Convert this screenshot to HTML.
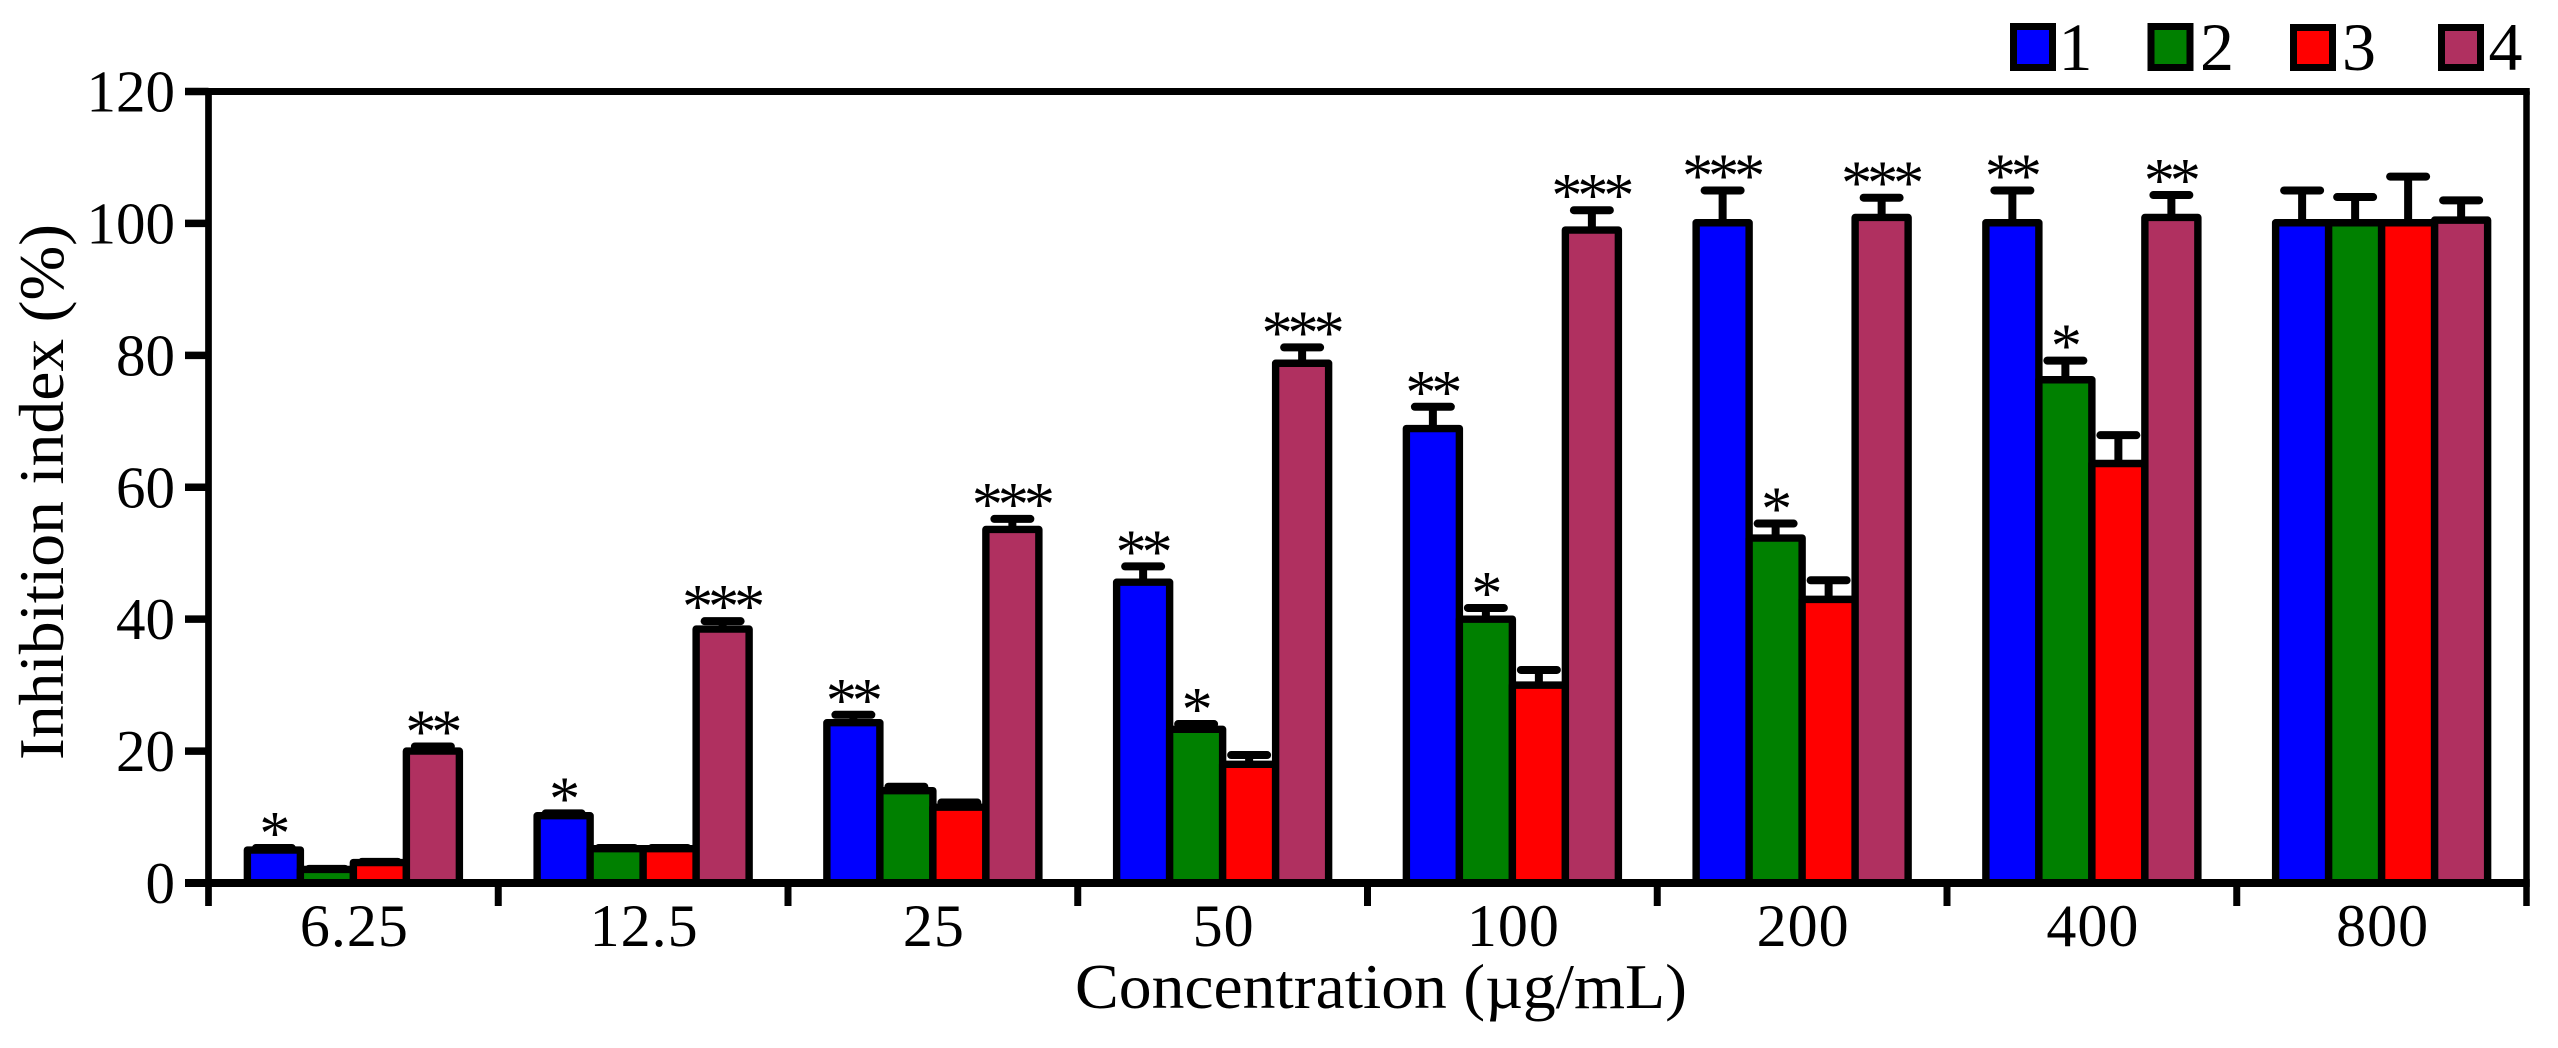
<!DOCTYPE html>
<html lang="en">
<head>
<meta charset="utf-8">
<title>Inhibition index by concentration</title>
<style>
html,body{margin:0;padding:0;background:#fff;}
svg{display:block;}
text{font-family:"Liberation Serif",serif;fill:#000;}
</style>
</head>
<body>
<svg id="chart" width="2558" height="1048" viewBox="0 0 2558 1048" xmlns="http://www.w3.org/2000/svg">
  <g id="plot"></g>
  <text x="1075" y="1008" font-size="64" textLength="612" lengthAdjust="spacingAndGlyphs">Concentration (µg/mL)</text>
  <text transform="translate(63,760) rotate(-90)" font-size="64" textLength="536" lengthAdjust="spacingAndGlyphs">Inhibition index (%)</text>
  <g>
    <g>
      <rect x="2013.5" y="26.5" width="39" height="41" fill="#0000ff" stroke="#000" stroke-width="7"/>
      <text x="2058.5" y="70" font-size="68">1</text>
    </g>
    <g>
      <rect x="2151" y="26.5" width="39" height="41" fill="#008000" stroke="#000" stroke-width="7"/>
      <text x="2200" y="70" font-size="68">2</text>
    </g>
    <g>
      <rect x="2293.5" y="27.5" width="39" height="40" fill="#ff0000" stroke="#000" stroke-width="7"/>
      <text x="2342" y="70" font-size="68">3</text>
    </g>
    <g>
      <rect x="2441.5" y="27.5" width="39" height="40" fill="#b03060" stroke="#000" stroke-width="7"/>
      <text x="2488.5" y="70" font-size="68">4</text>
    </g>
  </g>
</svg>
<script>
const categories = ["6.25", "12.5", "25", "50", "100", "200", "400", "800"];
const yTickLabels = ["0", "20", "40", "60", "80", "100", "120"];
const yTickValues = [0, 20, 40, 60, 80, 100, 120];
const yMax = 120;

const seriesNames = ["1", "2", "3", "4"];
const seriesColors = ["#0000ff", "#008000", "#ff0000", "#b03060"];

const series1 = [5, 10.2, 24.3, 45.6, 68.9, 100.1, 100.1, 100.1];
const series2 = [2.05, 5.2, 14, 23.3, 40, 52.3, 76.3, 100.1];
const series3 = [3.1, 5.2, 11.5, 18, 30, 43, 63.6, 100.1];
const series4 = [20, 38.5, 53.6, 78.8, 99, 100.9, 100.9, 100.5];

const error1 = [0.3, 0.35, 1.2, 2.4, 3.3, 4.9, 4.9, 4.9];
const error2 = [0.1, 0.1, 0.6, 0.8, 1.7, 2.2, 2.9, 3.9];
const error3 = [0.1, 0.1, 0.7, 1.4, 2.3, 2.9, 4.3, 7];
const error4 = [0.7, 1.2, 1.6, 2.4, 3, 3, 3.4, 3];

const stars1 = ["*", "*", "**", "**", "**", "***", "**", ""];
const stars2 = ["", "", "", "*", "*", "*", "*", ""];
const stars3 = ["", "", "", "", "", "", "", ""];
const stars4 = ["**", "***", "***", "***", "***", "***", "**", ""];

const allValues = [series1, series2, series3, series4];
const allErrors = [error1, error2, error3, error4];
const allStars = [stars1, stars2, stars3, stars4];

function yScale(v) {
  const top = 91.5, bottom = 883;
  return bottom - (v / yMax) * (bottom - top);
}
function xEdge(i) {
  const left = 208.5, right = 2526.5;
  return left + i * (right - left) / categories.length;
}
function xBar(i, s) {
  const pitch = 53;
  return (xEdge(i) + xEdge(i + 1)) / 2 + (s - 1.5) * pitch;
}

const NS = "http://www.w3.org/2000/svg";
const plot = document.getElementById("plot");

function make(tag, attrs, parent) {
  const el = document.createElementNS(NS, tag);
  for (const k in attrs) el.setAttribute(k, attrs[k]);
  parent.appendChild(el);
  return el;
}

// Bars with error bars
seriesNames.forEach(function (name, s) {
  const group = make("g", {}, plot);
  
  
  categories.forEach(function (cat, i) {
    const v = allValues[s][i];
    const e = allErrors[s][i];
    const cx = xBar(i, s);
    const yTop = yScale(v);
    const yCap = yScale(v + e);

    const stem = make("line", {x1: cx, x2: cx, y1: yTop, y2: yCap, stroke: "#000", "stroke-width": 8}, group);
    
    

    const cap = make("line", {x1: cx - 18, x2: cx + 18, y1: yCap, y2: yCap, stroke: "#000", "stroke-width": 8, "stroke-linecap": "round"}, group);
    
    

    const bar = make("rect", {x: cx - 26.5, y: yTop, width: 53, height: yScale(0) - yTop, fill: seriesColors[s], stroke: "#000", "stroke-width": 7.4, "stroke-linejoin": "round"}, group);
    
    

    const st = allStars[s][i];
    if (st) {
      const star = make("text", {x: cx - 1.5, y: yCap + 6, "font-size": 62, "letter-spacing": -5, "text-anchor": "middle"}, group);
      
      
      star.textContent = st;
    }
  });
});

// Axes frame
const axisBox = make("g", {}, plot);



const topLine = make("line", {x1: xEdge(0) - 3.5, x2: xEdge(categories.length) + 3.25, y1: yScale(yMax), y2: yScale(yMax), stroke: "#000", "stroke-width": 7}, axisBox);



const rightLine = make("line", {x1: xEdge(categories.length), x2: xEdge(categories.length), y1: yScale(yMax), y2: 906, stroke: "#000", "stroke-width": 6.5}, axisBox);



const leftLine = make("line", {x1: xEdge(0), x2: xEdge(0), y1: yScale(yMax), y2: 906, stroke: "#000", "stroke-width": 6.7}, axisBox);



const bottomLine = make("line", {x1: 185, x2: xEdge(categories.length) + 3.25, y1: yScale(0), y2: yScale(0), stroke: "#000", "stroke-width": 8}, axisBox);



// Y ticks
yTickValues.forEach(function (v, i) {
  const tick = make("line", {x1: 185, x2: xEdge(0), y1: yScale(v), y2: yScale(v), stroke: "#000", "stroke-width": 7.5}, axisBox);
  
  

  const label = make("text", {x: 175, y: yScale(v) + 20, "font-size": 59, "text-anchor": "end"}, axisBox);
  
  
  label.textContent = yTickLabels[i];
});

// X ticks
for (let i = 1; i < categories.length; i++) {
  const tick = make("line", {x1: xEdge(i), x2: xEdge(i), y1: yScale(0), y2: 906, stroke: "#000", "stroke-width": 7}, axisBox);
  
  
}
categories.forEach(function (cat, i) {
  const label = make("text", {x: (xEdge(i) + xEdge(i + 1)) / 2 + 1, y: 946, "font-size": 60, "text-anchor": "middle", "letter-spacing": 1}, axisBox);
  
  
  label.textContent = cat;
});
</script>
</body>
</html>
